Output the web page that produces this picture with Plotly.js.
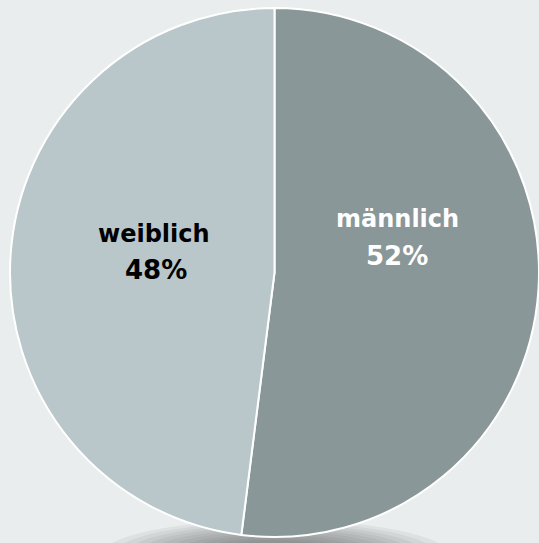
<!DOCTYPE html>
<html>
<head>
<meta charset="utf-8">
<script src="https://cdn.plot.ly/plotly-3.0.1.min.js"></script>
<style>html,body{margin:0;padding:0;background:#e9eded;}</style>
</head>
<body>
<div id="chart" style="width:539px;height:543px;"></div>
<script>
const labels = ["männlich", "weiblich"];
const values = [52, 48];
const sliceColors = ["#8a9799", "#b9c7ca"];
const textColors = ["#ffffff", "#000000"];

// plot area geometry (layout only)
const L = 10, T = 8, S = 529;
const px = x => (x - L) / S;
const py = y => 1 - (y - T) / S;

// soft shadow below the pie: stacked translucent ellipses
const shadows = [];
const N = 10;
for (let i = 0; i < N; i++) {
  const f = i / (N - 1);
  const hw = 175 - 105 * f;
  const hh = 36 - 20 * f;
  const cy = 556;
  shadows.push({
    type: "circle", xref: "paper", yref: "paper", layer: "below",
    x0: px(275 - hw), x1: px(275 + hw),
    y0: py(cy + hh), y1: py(cy - hh),
    fillcolor: "rgba(70,70,70,0.07)", line: {width: 0}
  });
}

// label text positions (layout only)
const labelPos = [
  {name: [397, 219], pct: [397, 256]},
  {name: [153.5, 234], pct: [156, 270]}
];
const total = values.reduce((a, b) => a + b, 0);
const annotations = [];
labels.forEach((lab, i) => {
  const fam = "DejaVu Sans, Verdana, sans-serif";
  annotations.push({xref: "paper", yref: "paper", x: px(labelPos[i].name[0]), y: py(labelPos[i].name[1]),
    xanchor: "center", yanchor: "middle", showarrow: false, text: lab,
    font: {family: fam, size: 24, weight: "bold", color: textColors[i]}});
  annotations.push({xref: "paper", yref: "paper", x: px(labelPos[i].pct[0]), y: py(labelPos[i].pct[1]),
    xanchor: "center", yanchor: "middle", showarrow: false,
    text: Math.round(values[i] / total * 100) + "%",
    font: {family: fam, size: 26, weight: "bold", color: textColors[i]}});
});

const trace = {
  type: "pie",
  labels: labels,
  values: values,
  sort: false,
  direction: "clockwise",
  rotation: 0,
  marker: {colors: sliceColors, line: {color: "#ffffff", width: 2}},
  textinfo: "none",
  hoverinfo: "none",
  showlegend: false
};

const layout = {
  width: 539, height: 543,
  margin: {l: L, r: 539 - L - S, t: T, b: 543 - T - S},
  paper_bgcolor: "#e9eded",
  plot_bgcolor: "#e9eded",
  showlegend: false,
  shapes: shadows,
  annotations: annotations
};

Plotly.newPlot("chart", [trace], layout, {displayModeBar: false, staticPlot: true});
</script>
</body>
</html>
